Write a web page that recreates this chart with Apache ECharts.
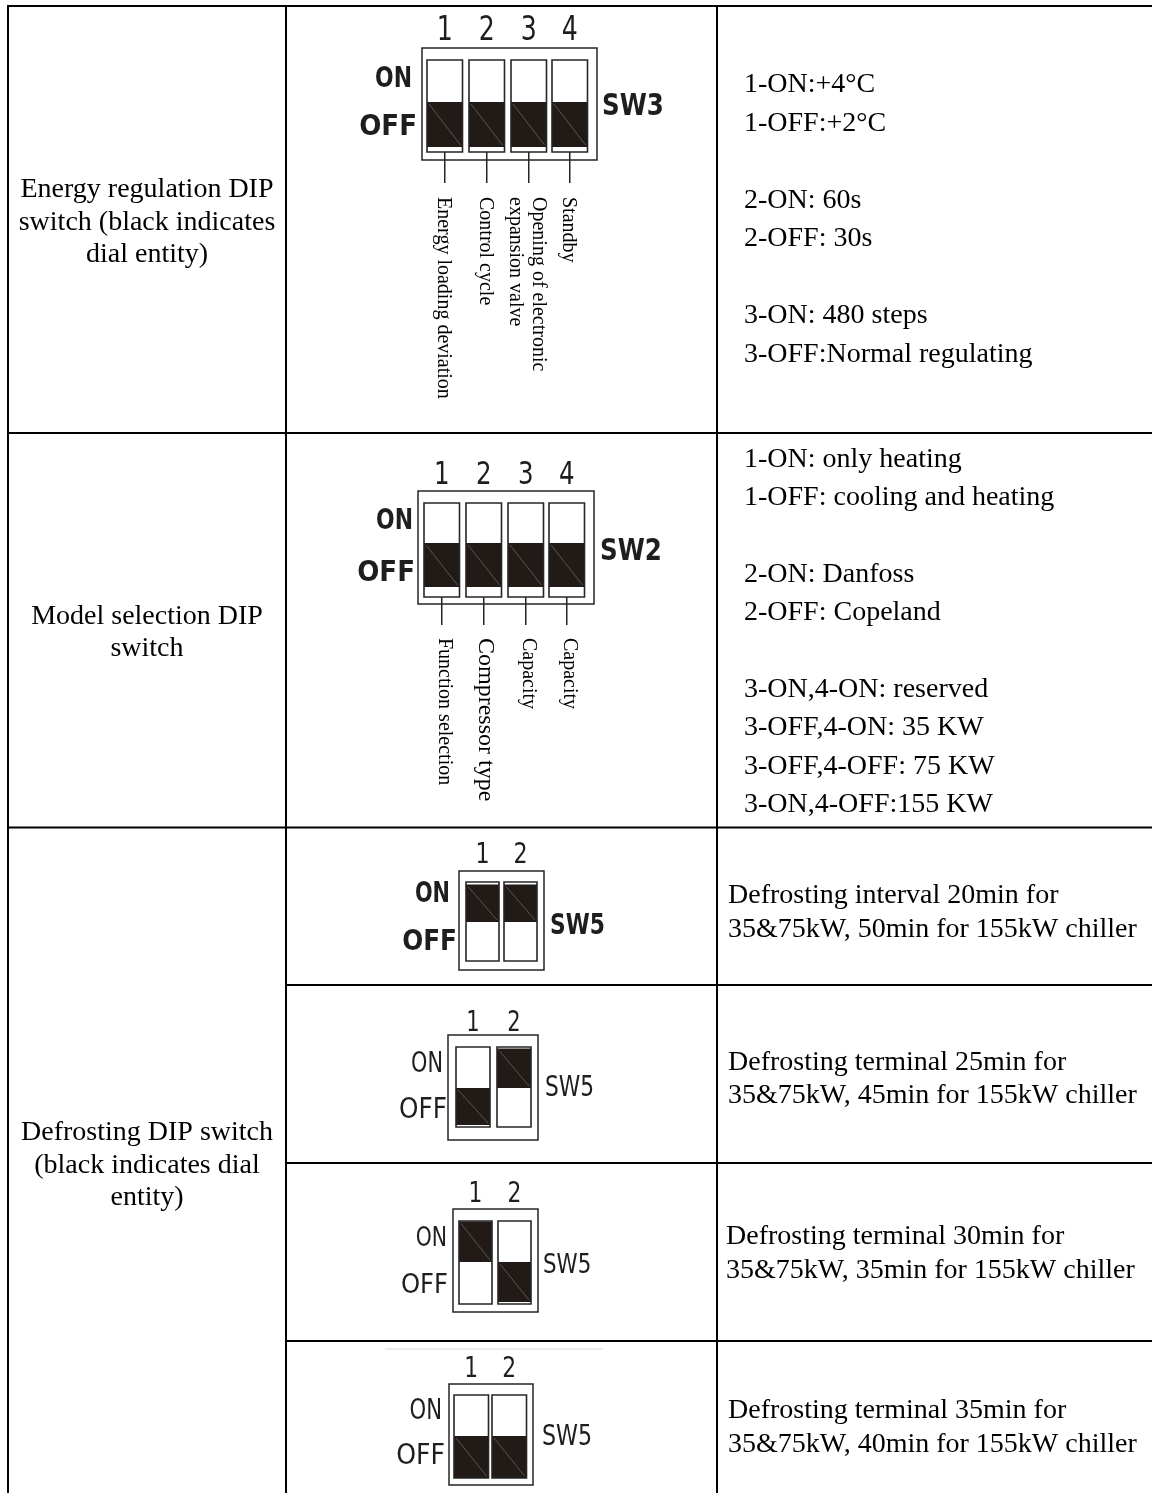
<!DOCTYPE html>
<html>
<head>
<meta charset="utf-8">
<script src="https://cdn.jsdelivr.net/npm/echarts@6/dist/echarts.min.js"></script>
<style>
html,body{margin:0;padding:0;background:#fff;}
#chart{width:1161px;height:1493px;}
</style>
</head>
<body>
<div id="chart"></div>
<script>
// ================= DATA =================
const sectionTitles = [
  ['Energy regulation DIP', 'switch (black indicates', 'dial entity)'],
  ['Model selection DIP', 'switch'],
  ['Defrosting DIP switch', '(black indicates dial', 'entity)']
];
const positionLabels = ['ON', 'OFF'];

// 1 = lever ON, 0 = lever OFF (black indicates dial entity)
const sw3Name = 'SW3';
const sw3Numbers = ['1', '2', '3', '4'];
const sw3States = [0, 0, 0, 0];
const sw3Functions = [
  ['Energy loading deviation'],
  ['Control cycle'],
  ['Opening of electronic', 'expansion valve'],
  ['Standby']
];
const sw3Notes = ['1-ON:+4°C', '1-OFF:+2°C', '', '2-ON: 60s', '2-OFF: 30s', '', '3-ON: 480 steps', '3-OFF:Normal regulating'];

const sw2Name = 'SW2';
const sw2Numbers = ['1', '2', '3', '4'];
const sw2States = [0, 0, 0, 0];
const sw2Functions = [
  ['Function selection'],
  ['Compressor type'],
  ['Capacity'],
  ['Capacity']
];
const sw2Notes = ['1-ON: only heating', '1-OFF: cooling and heating', '', '2-ON: Danfoss', '2-OFF: Copeland', '',
  '3-ON,4-ON: reserved', '3-OFF,4-ON: 35 KW', '3-OFF,4-OFF: 75 KW', '3-ON,4-OFF:155 KW'];

const sw5Name = 'SW5';
const sw5Numbers = ['1', '2'];
const sw5States = [[1, 1], [0, 1], [1, 0], [0, 0]];
const sw5Notes = [
  ['Defrosting interval 20min for', '35&75kW, 50min for 155kW chiller'],
  ['Defrosting terminal 25min for', '35&75kW, 45min for 155kW chiller'],
  ['Defrosting terminal 30min for', '35&75kW, 35min for 155kW chiller'],
  ['Defrosting terminal 35min for', '35&75kW, 40min for 155kW chiller']
];

// ================= LAYOUT (positions / sizes / styles) =================
const SERIF = "'Liberation Serif','Times New Roman',serif";
const COND = "'DejaVu Sans Condensed','DejaVu Sans',sans-serif";
const W = 1161, H = 1493;

const tableLayout = {
  left: 8, col1: 286, col2: 717, right: 1152,
  sectionTops: [6, 433, 827.5], bottom: 1493,
  subRows: [985, 1163, 1341],
  titleX: 147, titleY: [190, 616.5, 1133], titleStep: 32.5,
  noteX: 744, noteY: [85, 459.5], noteStep: [38.5, 38.35],
  defrostX: [728, 728, 726, 728], defrostY: [896, 1062.5, 1237, 1411], defrostStep: 33.5,
  bodyFs: 28, lineW: 2
};

const switchLayouts = [
  {box:[422,48,597,160], slotX:[427,469,511,552], w:35.5, slotY:[60,152], split:102, stripOn:2.5, stripOff:5,
   numY:31, numFs:33, on:[412,79], off:[417,127.5], lblFs:29, nameXY:[602,106.5], nameFs:31, weight:'bold',
   lead:183, labelTop:197, labelDx:-2, labelGap:23, labelFs:[20,20,20,20]},
  {box:[418,491,594,604], slotX:[424,466,508,549], w:35.5, slotY:[503,597], split:543, stripOn:2.5, stripOff:10,
   numY:476, numFs:32, on:[413,521], off:[415,573], lblFs:29, nameXY:[600,551.5], nameFs:31, weight:'bold',
   lead:625, labelTop:638, labelDx:2, labelGap:23, labelFs:[20,24,20,20]},
  {box:[459,871,544,970], slotX:[466,504], w:33, slotY:[882,961], split:922, stripOn:2.5, stripOff:2.5,
   numY:855, numFs:29, on:[450,895], off:[457,943], lblFs:27.5, nameXY:[550,927], nameFs:27.5, weight:'bold'},
  {box:[448,1035,538,1140], slotX:[456,497], w:34, slotY:[1047,1127], split:1088, stripOn:1.5, stripOff:2,
   numY:1024, numFs:27.5, on:[443,1065], off:[447,1111], lblFs:27.5, nameXY:[545,1089], nameFs:27.5, weight:'normal'},
  {box:[453,1209,538,1312], slotX:[459,498], w:33, slotY:[1221,1304], split:1262, stripOn:0.5, stripOff:2,
   numY:1195, numFs:28.5, on:[447,1239], off:[448,1286], lblFs:27, nameXY:[543,1266], nameFs:27, weight:'normal'},
  {box:[449,1384,533,1485], slotX:[454,492], w:34.5, slotY:[1395,1478], split:1436, stripOn:0.5, stripOff:0,
   numY:1370, numFs:28.5, on:[442,1412], off:[445,1457], lblFs:28, nameXY:[542,1438], nameFs:28, weight:'normal',
   rule:[385,603,1349]}
];

// ================= BUILD =================
const switchSets = [
  {name: sw3Name, numbers: sw3Numbers, states: sw3States, functions: sw3Functions},
  {name: sw2Name, numbers: sw2Numbers, states: sw2States, functions: sw2Functions}
].concat(sw5States.map(st => ({name: sw5Name, numbers: sw5Numbers, states: st, functions: null})));

const sections = [
  {title: sectionTitles[0], notes: sw3Notes},
  {title: sectionTitles[1], notes: sw2Notes},
  {title: sectionTitles[2], notes: sw5Notes}
];

function P(api, x, y) { return api.coord([x, y]); }
function seg(api, x1, y1, x2, y2, style) {
  const a = P(api, x1, y1), b = P(api, x2, y2);
  return {type: 'line', shape: {x1: a[0], y1: a[1], x2: b[0], y2: b[1]}, style: style};
}
function rectEl(api, x1, y1, x2, y2, style) {
  const a = P(api, x1, y1), b = P(api, x2, y2);
  return {type: 'rect', shape: {x: a[0], y: a[1], width: b[0] - a[0], height: b[1] - a[1]}, style: style};
}
function txt(api, x, y, text, st, extra) {
  const a = P(api, x, y);
  const style = Object.assign({
    text: text, fill: '#000',
    align: st.align || 'left', textAlign: st.align || 'left',
    verticalAlign: 'middle', textVerticalAlign: 'middle'
  }, st);
  return Object.assign({type: 'text', x: a[0], y: a[1], style: style}, extra || {});
}

function renderTable(params, api) {
  const i = params.dataIndex;
  const T = tableLayout;
  const sec = sections[i];
  const top = T.sectionTops[i];
  const bottom = i < 2 ? T.sectionTops[i + 1] : T.bottom;
  const ls = {stroke: '#000', lineWidth: T.lineW};
  const ch = [];
  ch.push(seg(api, T.left - 1, top, T.right, top, ls));
  [T.left, T.col1, T.col2].forEach(x => ch.push(seg(api, x, top - 1, x, bottom, ls)));
  const body = {fontFamily: SERIF, fontSize: T.bodyFs};
  sec.title.forEach((line, k) => {
    ch.push(txt(api, T.titleX, T.titleY[i] + k * T.titleStep, line, Object.assign({align: 'center'}, body)));
  });
  if (i < 2) {
    sec.notes.forEach((line, k) => {
      if (line) ch.push(txt(api, T.noteX, T.noteY[i] + k * T.noteStep[i], line, body));
    });
  } else {
    T.subRows.forEach(y => ch.push(seg(api, T.col1, y, T.right, y, ls)));
    sec.notes.forEach((lines, r) => {
      lines.forEach((line, k) => {
        ch.push(txt(api, T.defrostX[r], T.defrostY[r] + k * T.defrostStep, line, body));
      });
    });
  }
  return {type: 'group', children: ch};
}

function renderSwitch(params, api) {
  const i = params.dataIndex;
  const s = switchSets[i];
  const g = switchLayouts[i];
  const ch = [];
  const dark = '#262626';
  if (g.rule) ch.push(seg(api, g.rule[0], g.rule[2], g.rule[1], g.rule[2], {stroke: '#d4d4d4', lineWidth: 1}));
  ch.push(rectEl(api, g.box[0], g.box[1], g.box[2], g.box[3], {fill: '#fff', stroke: dark, lineWidth: 1.5}));
  const cond = {fontFamily: COND, fill: '#1e1e1e'};
  s.states.forEach((st, k) => {
    const x0 = g.slotX[k], x1 = x0 + g.w, t = g.slotY[0], b = g.slotY[1];
    const cx = (x0 + x1) / 2;
    ch.push(rectEl(api, x0, t, x1, b, {fill: '#fff'}));
    let y0, y1;
    if (st) { y0 = t + g.stripOn; y1 = g.split; } else { y0 = g.split; y1 = b - g.stripOff; }
    ch.push(rectEl(api, x0, y0, x1, y1, {fill: '#221a17'}));
    ch.push(seg(api, x0 + 2, y0 + 2, x1 - 2, y1 - 2, {stroke: 'rgba(150,150,150,0.6)', lineWidth: 0.8}));
    ch.push(rectEl(api, x0, t, x1, b, {fill: null, stroke: dark, lineWidth: 1.6}));
    ch.push(txt(api, cx, g.numY, s.numbers[k],
      Object.assign({align: 'center', fontSize: g.numFs, fontWeight: 'normal'}, cond),
      {scaleX: 0.85}));
    if (s.functions) {
      ch.push(seg(api, cx, b, cx, g.lead, {stroke: dark, lineWidth: 1.5}));
      const lines = s.functions[k];
      const n = lines.length;
      lines.forEach((line, j) => {
        const lx = cx + g.labelDx + ((n - 1) / 2 - j) * g.labelGap;
        ch.push(txt(api, lx, g.labelTop, line,
          {align: 'left', fontFamily: SERIF, fontSize: g.labelFs[k]},
          {rotation: -Math.PI / 2}));
      });
    }
  });
  const lw = {fontSize: g.lblFs, fontWeight: g.weight};
  ch.push(txt(api, g.on[0], g.on[1], positionLabels[0], Object.assign({align: 'right'}, lw, cond), {scaleX: 0.84}));
  ch.push(txt(api, g.off[0], g.off[1], positionLabels[1], Object.assign({align: 'right'}, lw, cond), {scaleX: 1.0}));
  ch.push(txt(api, g.nameXY[0], g.nameXY[1], s.name,
    Object.assign({align: 'left', fontSize: g.nameFs, fontWeight: g.weight}, cond), {scaleX: 0.88}));
  return {type: 'group', children: ch};
}

const chart = echarts.init(document.getElementById('chart'), null, {renderer: 'canvas'});
chart.setOption({
  backgroundColor: '#fff',
  animation: false,
  grid: {left: 0, right: 0, top: 0, bottom: 0, containLabel: false},
  xAxis: {type: 'value', min: 0, max: W, show: false},
  yAxis: {type: 'value', min: 0, max: H, inverse: true, show: false},
  series: [
    {
      type: 'custom', name: 'table', coordinateSystem: 'cartesian2d', silent: true, clip: false,
      data: sections.map((s, i) => [i, i]),
      renderItem: renderTable
    },
    {
      type: 'custom', name: 'switches', coordinateSystem: 'cartesian2d', silent: true, clip: false, z: 3,
      data: switchSets.map((s, i) => [i, i]),
      renderItem: renderSwitch
    }
  ]
});
</script>
</body>
</html>
